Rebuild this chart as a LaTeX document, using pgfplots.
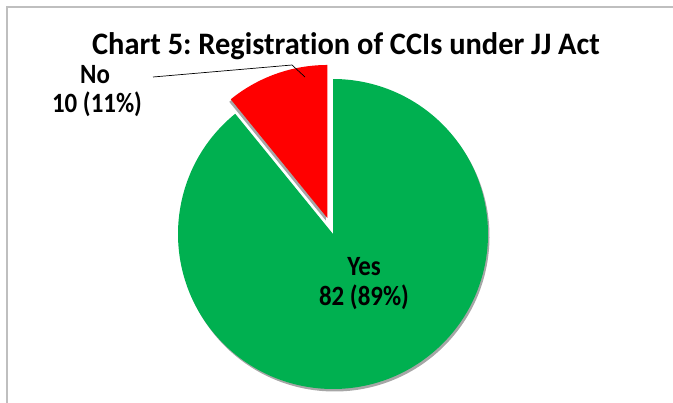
\documentclass[border=0pt]{standalone}
\usepackage{pgfplots}
\pgfplotsset{compat=1.18}
\usepackage{fontspec}
\setmainfont{Carlito}[Ligatures=NoCommon]
\frenchspacing
\usetikzlibrary{shadows}
\definecolor{pieGreen}{HTML}{00B050}
\definecolor{pieRed}{HTML}{FF0000}
\begin{document}
\begin{tikzpicture}
% data
\pgfmathsetmacro{\vYes}{82}
\pgfmathsetmacro{\vNo}{10}
\pgfmathsetmacro{\tot}{\vYes+\vNo}
\pgfmathsetmacro{\aNo}{360*\vNo/\tot}
\pgfmathsetmacro{\aEnd}{90+\aNo}
\pgfmathsetmacro{\aMid}{90+\aNo/2}
\begin{axis}[width=673bp,height=403bp,scale only axis,
  xmin=0,xmax=673,ymin=0,ymax=403,y dir=reverse,hide axis,clip=false]
% frame
\draw[gray!50,line width=1.5bp] (axis cs:7,403) -- (axis cs:7,7) -- (axis cs:673,7);
% green slice
\fill[pieGreen,drop shadow={shadow xshift=1.5bp,shadow yshift=-2.5bp,opacity=0.35,fill=black}]
  (axis cs:333,234) -- ++(\aEnd:155bp) arc[start angle=\aEnd,end angle=450,radius=155bp] -- cycle;
% red slice (exploded)
\fill[pieRed,drop shadow={shadow xshift=-1.5bp,shadow yshift=-2.5bp,opacity=0.35,fill=black}]
  (axis cs:333,234) ++(\aMid:17bp) -- ++(90:153bp) arc[start angle=90,end angle=\aEnd,radius=153bp] -- cycle;
% title
\node[font=\fontsize{28}{32}\selectfont\bfseries,xscale=1.09,yscale=1.12] at (axis cs:346,46) {Chart 5: Registration of CCIs under JJ Act};
% labels
\node[font=\fontsize{25}{28}\selectfont\bfseries,yscale=1.12] at (axis cs:95,75) {No};
\node[font=\fontsize{25}{28}\selectfont\bfseries,yscale=1.12] at (axis cs:97,104) {10 (11\%)};
\node[font=\fontsize{25}{28}\selectfont\bfseries,yscale=1.12] at (axis cs:364,267) {Yes};
\node[font=\fontsize{25}{28}\selectfont\bfseries,yscale=1.12] at (axis cs:364,297) {82 (89\%)};
\draw[black,line width=0.7bp] (axis cs:153,77) -- (axis cs:292,65) -- (axis cs:305,77);
\end{axis}
\pgfresetboundingbox
\path (0,0) rectangle (673bp,403bp);
\end{tikzpicture}
\end{document}
